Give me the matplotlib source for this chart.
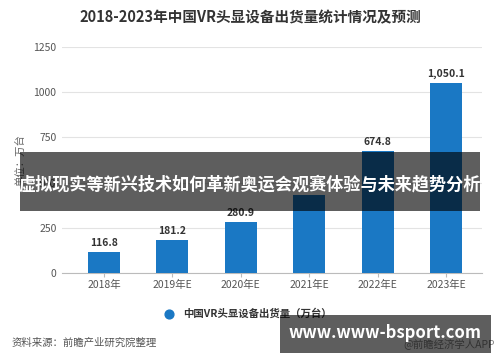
import matplotlib
matplotlib.use("Agg")
import matplotlib.pyplot as plt
from matplotlib.patches import Rectangle

plt.rcParams['font.family'] = ['Noto Sans CJK SC', 'DejaVu Sans']

TITLE = "2018-2023年中国VR头显设备出货量统计情况及预测"
Y_LABEL = "单位：万台"
LEGEND = "中国VR头显设备出货量（万台）"
SOURCE = "资料来源：前瞻产业研究院整理"
BANNER = "虚拟现实等新兴技术如何革新奥运会观赛体验与未来趋势分析"
SITE = "www.www-bsport.com"
APP = "@前瞻经济学人APP"

years = ["2018年", "2019年E", "2020年E", "2021年E", "2022年E", "2023年E"]
shipments = [116.8, 181.2, 280.9, 433.0, 674.8, 1050.1]
labels = ["116.8", "181.2", "280.9", "", "674.8", "1,050.1"]
y_ticks = [0, 250, 500, 750, 1000, 1250]

BAR_COLOR = "#1a78c4"

fig = plt.figure(figsize=(5, 3.62), dpi=100)
ax = fig.add_axes([0.124, 0.246, 0.84, 0.624])

x = list(range(len(years)))
ax.bar(x, shipments, width=0.47, color=BAR_COLOR, zorder=3)
for xi, v, lab in zip(x, shipments, labels):
    ax.text(xi, v + 22, lab, ha="center", va="bottom", fontsize=7.5,
            fontweight="bold", color="#333333")

ax.set_xlim(-0.614, 5.526)
ax.set_ylim(0, 1250)
ax.set_yticks(y_ticks)
ax.set_xticks(x)
ax.set_xticklabels(years)
ax.grid(axis="y", color="#e3e3e3", linewidth=0.8, zorder=0)
for s in ["top", "right", "left"]:
    ax.spines[s].set_visible(False)
ax.spines["bottom"].set_color("#bbbbbb")
ax.tick_params(axis="y", length=0, labelsize=7.5, labelcolor="#555555", pad=4)
ax.tick_params(axis="x", length=3, color="#bbbbbb", labelsize=7.5,
               labelcolor="#555555", pad=2)
ax.set_ylabel(Y_LABEL, fontsize=7.5, color="#666666", labelpad=6)

fig.text(0.5, 0.953, TITLE, ha="center", va="center", fontsize=10.5,
         fontweight="bold", color="#333333")

# legend
ax.scatter([], [], s=40, color=BAR_COLOR, label=LEGEND)
leg = ax.legend(loc="center", bbox_to_anchor=(0.49, 0.135), bbox_transform=fig.transFigure,
                frameon=False, fontsize=7.5, handletextpad=0.3)
for t in leg.get_texts():
    t.set_color("#333333")
    t.set_fontweight("bold")

fig.text(0.024, 0.052, SOURCE, ha="left", va="center", fontsize=7.5, color="#555555")
fig.text(0.99, 0.052, APP, ha="right", va="center", fontsize=7.5, color="#888888")

# overlay banners
fig.patches.append(Rectangle((0.04, 0.417), 0.92, 0.163, transform=fig.transFigure,
                             facecolor="black", alpha=0.63, zorder=5))
fig.text(0.5, 0.49, BANNER, ha="center", va="center", fontsize=12.3,
         fontweight="bold", color="white", zorder=6)
fig.patches.append(Rectangle((0.56, 0.025), 0.422, 0.105, transform=fig.transFigure,
                             facecolor="black", alpha=0.63, zorder=5))
fig.text(0.77, 0.08, SITE, ha="center", va="center", fontsize=12,
         fontweight="bold", color="white", zorder=6)

fig.savefig("out.png", dpi=100)
